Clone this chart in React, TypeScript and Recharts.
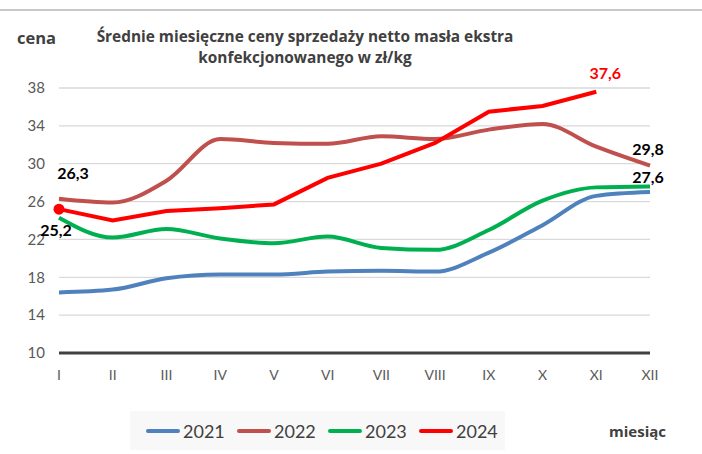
import React from 'react';
import { LineChart, Line, XAxis, YAxis, CartesianGrid } from 'recharts';

const months = ['I', 'II', 'III', 'IV', 'V', 'VI', 'VII', 'VIII', 'IX', 'X', 'XI', 'XII'];
const s2021 = [16.4, 16.7, 17.9, 18.3, 18.3, 18.6, 18.7, 18.6, 20.6, 23.5, 26.6, 27.0];
const s2022 = [26.3, 25.9, 28.2, 32.6, 32.2, 32.1, 32.9, 32.6, 33.6, 34.2, 31.8, 29.8];
const s2023 = [24.3, 22.2, 23.1, 22.1, 21.6, 22.3, 21.1, 20.9, 23.0, 26.1, 27.5, 27.6];
const s2024: (number | null)[] = [25.2, 24.0, 25.0, 25.3, 25.7, 28.5, 30.0, 32.2, 35.5, 36.1, 37.6, null];
const yTicks = [10, 14, 18, 22, 26, 30, 34, 38];
const years = ['2021', '2022', '2023', '2024'];
const colors = ['#4F81BD', '#C0504D', '#00B050', '#FF0000'];

const data = months.map((m, i) => ({
  m,
  y2021: s2021[i],
  y2022: s2022[i],
  y2023: s2023[i],
  y2024: s2024[i],
}));

const FONT = 'Lato, "Liberation Sans", sans-serif';
const TFONT = '"Open Sans", "Liberation Sans", sans-serif';

const makeLabel = (idx: number, dx: number, dy: number, color: string) => (props: any) => {
  const { x, y, index, value } = props;
  if (index !== idx || value == null) return null;
  return (
    <text x={x + dx} y={y + dy} textAnchor="middle" dominantBaseline="central" fill={color}
      fontFamily={FONT} fontSize={16} fontWeight={700}>
      {String(value).replace('.', ',')}
    </text>
  );
};

const redDot = (props: any) => {
  const { cx, cy, index } = props;
  if (index !== 0) return <g key={`d${index}`} />;
  return <circle key={`d${index}`} cx={cx} cy={cy} r={5.5} fill="#FF0000" />;
};

export default function App() {
  return (
    <div style={{ position: 'absolute', left: 0, top: 0, width: 702, height: 454, background: '#fff', fontFamily: FONT }}>
      <div style={{ position: 'absolute', left: 0, top: 9, width: 702, height: 2, background: '#c8c8c8' }} />
      <div style={{ position: 'absolute', left: 17, top: 26, fontSize: 16.5, fontWeight: 700, color: '#404040', fontFamily: TFONT }}>cena</div>
      <div style={{ position: 'absolute', left: 45, top: 26, width: 520, textAlign: 'center', fontSize: 15.4, fontWeight: 700, color: '#404040', lineHeight: '21px', fontFamily: TFONT }}>
        Średnie miesięczne ceny sprzedaży netto masła ekstra<br />konfekcjonowanego w zł/kg
      </div>
      <LineChart width={702} height={454} data={data} margin={{ top: 88, right: 52, bottom: 71, left: 0 }}
        style={{ position: 'absolute', left: 0, top: 0 }}>
        <CartesianGrid horizontal vertical={false} stroke="#d9d9d9" strokeWidth={1.3} />
        <XAxis dataKey="m" scale="point" padding={{ left: 0, right: 0 }} height={30}
          axisLine={{ stroke: '#404040', strokeWidth: 3 }} tickLine={false} tickSize={6} tickMargin={11}
          tick={{ fill: '#595959', fontSize: 14, fontFamily: FONT }} interval={0} />
        <YAxis width={59} domain={[10, 38]} ticks={yTicks} axisLine={false} tickLine={false}
          tickSize={6} tickMargin={8} tick={{ fill: '#595959', fontSize: 15, fontFamily: FONT }} />
        <Line dataKey="y2021" type="monotone" stroke={colors[0]} strokeWidth={4} dot={false} isAnimationActive={false} />
        <Line dataKey="y2022" type="monotone" stroke={colors[1]} strokeWidth={4} dot={false} isAnimationActive={false}
          label={(p: any) => (p.index === 0 ? makeLabel(0, 14, -26, '#000')(p) : makeLabel(11, -2, -17, '#000')(p))} />
        <Line dataKey="y2023" type="monotone" stroke={colors[2]} strokeWidth={4} dot={false} isAnimationActive={false}
          label={makeLabel(11, -2, -10, '#000')} />
        <Line dataKey="y2024" type="linear" stroke={colors[3]} strokeWidth={4} dot={redDot} isAnimationActive={false}
          label={(p: any) => (p.index === 0 ? makeLabel(0, -3, 20, '#000')(p) : makeLabel(10, 9, -19, '#FF0000')(p))} />
      </LineChart>
      <div style={{ position: 'absolute', left: 130, top: 411, width: 375, height: 39, background: '#f8f8f8' }}>
        {years.map((y, i) => (
          <div key={y} style={{ position: 'absolute', left: 16 + i * 91, top: 0, height: 39, display: 'flex', alignItems: 'center' }}>
            <div style={{ width: 34, height: 4, borderRadius: 2, background: colors[i] }} />
            <span style={{ marginLeft: 3, fontSize: 18, color: '#404040' }}>{y}</span>
          </div>
        ))}
      </div>
      <div style={{ position: 'absolute', left: 609, top: 421, fontSize: 15, fontWeight: 700, color: '#404040', fontFamily: TFONT }}>miesiąc</div>
    </div>
  );
}
